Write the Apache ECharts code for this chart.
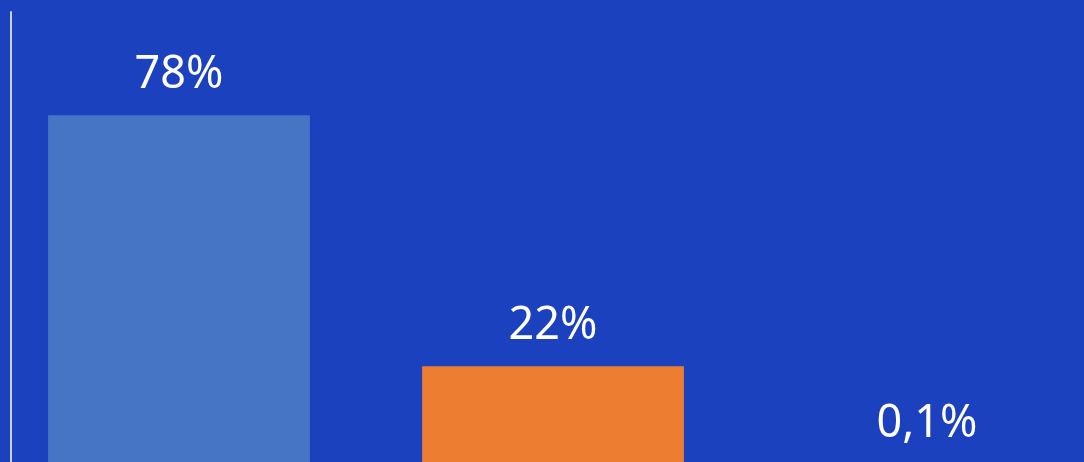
<!DOCTYPE html>
<html>
<head>
<meta charset="utf-8">
<script src="https://cdn.jsdelivr.net/npm/echarts@6/dist/echarts.min.js"></script>
<style>
html,body{margin:0;padding:0;background:#1B41BF;overflow:hidden;width:1084px;height:462px;}
#chart{position:absolute;left:-8px;top:0;width:1122px;height:465px;}
</style>
</head>
<body>
<div id="chart"></div>
<script>
const categories = ['A', 'B', 'C'];
const values = [78, 22, 0.1];
const valueLabels = ['78%', '22%', '0,1%'];
const barColors = ['#4775C6', '#ED7D31', '#A5A5A5'];

const chart = echarts.init(document.getElementById('chart'));
chart.setOption({
  backgroundColor: '#1B41BF',
  animation: false,
  grid: { left: 0, right: 0, top: 12, bottom: 0, containLabel: false },
  xAxis: {
    type: 'category',
    data: categories,
    axisLine: { show: false },
    axisTick: { show: false },
    axisLabel: { show: false }
  },
  yAxis: {
    type: 'value',
    min: 0,
    max: 101,
    offset: -19,
    splitLine: { show: false },
    axisTick: { show: false },
    axisLabel: { show: false },
    axisLine: { show: true, lineStyle: { color: '#C8D0EA', width: 2 } }
  },
  series: [{
    type: 'bar',
    barWidth: '70%',
    data: values.map((v, i) => ({ value: v, itemStyle: { color: barColors[i] } })),
    label: {
      show: true,
      position: 'top',
      distance: 17,
      color: '#FFFFFF',
      fontFamily: 'Noto Sans',
      fontSize: 45,
      lineHeight: 46,
      formatter: p => valueLabels[p.dataIndex]
    }
  }]
});
</script>
</body>
</html>
